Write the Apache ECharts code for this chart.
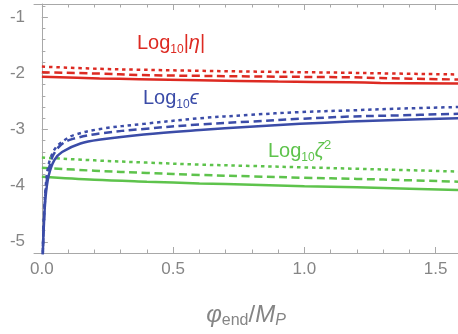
<!DOCTYPE html>
<html>
<head>
<meta charset="utf-8">
<script src="https://cdn.jsdelivr.net/npm/echarts@6/dist/echarts.min.js"></script>
<style>
  html, body { margin: 0; padding: 0; background: #ffffff; }
  #chart { width: 458px; height: 334px; }
</style>
</head>
<body>
<div id="chart"></div>
<script>
// Slow-roll quantities versus the field value at the end of inflation.
// Three parameter choices per quantity: solid, dashed and dotted.

// Log10|eta|
const etaX       = [0, 0.22, 0.37, 0.6, 0.9, 1.17, 1.29, 1.585];
const etaDotted  = [-1.88, -1.92, -1.935, -1.955, -1.975, -1.99, -2.0, -2.02];
const etaDashed  = [-1.98, -2.005, -2.03, -2.045, -2.06, -2.07, -2.085, -2.11];
const etaSolid   = [-2.06, -2.09, -2.105, -2.125, -2.145, -2.16, -2.17, -2.18];

// Log10 epsilon
const epsSolidX  = [0.003, 0.007, 0.014, 0.026, 0.048, 0.077, 0.147, 0.223, 0.388, 0.602, 0.792, 0.983, 1.173, 1.35, 1.585];
const epsSolid   = [-5.3, -4.77, -4.21, -3.82, -3.54, -3.4, -3.25, -3.18, -3.09, -3.01, -2.95, -2.9, -2.86, -2.83, -2.8];
const epsDashedX = [0.003, 0.007, 0.014, 0.022, 0.033, 0.045, 0.071, 0.109, 0.223, 0.388, 0.602, 0.792, 0.983, 1.173, 1.35, 1.585];
const epsDashed  = [-5.3, -4.7, -4.12, -3.8, -3.59, -3.44, -3.28, -3.18, -3.07, -2.99, -2.91, -2.86, -2.81, -2.77, -2.75, -2.72];
const epsDottedX = [0.003, 0.007, 0.014, 0.022, 0.033, 0.052, 0.083, 0.122, 0.223, 0.388, 0.602, 0.792, 0.983, 1.173, 1.35, 1.585];
const epsDotted  = [-5.3, -4.65, -4.05, -3.71, -3.51, -3.33, -3.2, -3.1, -2.99, -2.9, -2.8, -2.74, -2.69, -2.66, -2.63, -2.6];

// Log10 zeta^2
const zetaX      = [0, 0.2, 0.4, 0.6, 0.8, 1.0, 1.2, 1.4, 1.585];
const zetaDotted = [-3.5, -3.55, -3.59, -3.625, -3.65, -3.675, -3.7, -3.725, -3.75];
const zetaDashed = [-3.68, -3.735, -3.775, -3.81, -3.835, -3.86, -3.88, -3.905, -3.93];
const zetaSolid  = [-3.84, -3.895, -3.93, -3.96, -3.985, -4.01, -4.03, -4.055, -4.08];

// Axis ticks
const xMajor = [0, 0.5, 1, 1.5];
const xMinor = [0, 0.1, 0.2, 0.3, 0.4, 0.5, 0.6, 0.7, 0.8, 0.9, 1.0, 1.1, 1.2, 1.3, 1.4, 1.5];
const yMajor = [-5, -4, -3, -2, -1];
const yMinor = [-5.2, -5.0, -4.8, -4.6, -4.4, -4.2, -4.0, -3.8, -3.6, -3.4, -3.2, -3.0, -2.8, -2.6, -2.4, -2.2, -2.0, -1.8, -1.6, -1.4, -1.2, -1.0, -0.8];

const RED = '#dd2a22';
const BLUE = '#3b4ca8';
const GREEN = '#5ec34c';
const AXIS = '#a8a8a8';
const TEXT = '#858585';
const FONT = '"Liberation Sans", Arial, sans-serif';
const DASHED = [8, 4.5];
const DOTTED = [3.5, 3.8];

const X_MIN = -0.03, X_MAX = 1.585, Y_MIN = -5.2, Y_MAX = -0.765;

function pairs(xs, ys) { return xs.map((x, i) => [x, ys[i]]); }

function curve(name, xs, ys, color, dash, z) {
  return {
    name, type: 'line', data: pairs(xs, ys),
    showSymbol: false, symbol: 'none', smooth: 0.35,
    z,
    lineStyle: { color, width: 2.5, type: dash, cap: 'butt' }
  };
}

function tag(coord, text, color) {
  return {
    symbol: 'circle', symbolSize: 0, silent: true,
    label: {
      show: true, position: 'right', distance: 0,
      formatter: text,
      rich: {
        m:  { fontFamily: FONT, fontSize: 20, color, lineHeight: 24 },
        i:  { fontFamily: FONT, fontSize: 20, color, lineHeight: 24, fontStyle: 'italic' },
        s:  { fontFamily: FONT, fontSize: 12, color, lineHeight: 13, verticalAlign: 'bottom' },
        p:  { fontFamily: FONT, fontSize: 13, color, lineHeight: 7, verticalAlign: 'top' }
      }
    },
    data: [{ coord }]
  };
}

function xAxisPart(position, ticks, len, withLine, withLabel) {
  return {
    type: 'value', min: X_MIN, max: X_MAX, position,
    axisLine: { show: withLine, lineStyle: { color: AXIS, width: 1 } },
    axisTick: { show: true, inside: true, length: len, customValues: ticks, lineStyle: { color: AXIS, width: 1 } },
    axisLabel: withLabel ? {
      show: true, customValues: xMajor, color: TEXT, fontSize: 17, fontFamily: FONT, margin: 8,
      formatter: v => v.toFixed(1)
    } : { show: false },
    splitLine: { show: false }
  };
}

function yAxisPart(ticks, len, withLine, withLabel) {
  return {
    type: 'value', min: Y_MIN, max: Y_MAX, position: 'left',
    axisLine: { show: withLine, lineStyle: { color: AXIS, width: 1 } },
    axisTick: { show: true, inside: true, length: len, customValues: ticks, lineStyle: { color: AXIS, width: 1 } },
    axisLabel: withLabel ? {
      show: true, customValues: yMajor, color: TEXT, fontSize: 17, fontFamily: FONT, margin: 9,
      formatter: v => String(Math.round(v))
    } : { show: false },
    splitLine: { show: false }
  };
}

const chart = echarts.init(document.getElementById('chart'), null, { renderer: 'canvas' });

const bottomAxis = xAxisPart('bottom', xMajor, 6, true, true);
bottomAxis.name = '{i|φ}{s|end}{n|/}{i|M}{si|P}';
bottomAxis.nameLocation = 'middle';
bottomAxis.nameGap = 48;
bottomAxis.nameTextStyle = {
  rich: {
    n:  { fontFamily: FONT, fontSize: 24, color: TEXT, lineHeight: 28 },
    i:  { fontFamily: FONT, fontSize: 24, color: TEXT, lineHeight: 28, fontStyle: 'italic' },
    s:  { fontFamily: FONT, fontSize: 16, color: TEXT, lineHeight: 15, verticalAlign: 'bottom' },
    si: { fontFamily: FONT, fontSize: 16, color: TEXT, lineHeight: 15, verticalAlign: 'bottom', fontStyle: 'italic' }
  }
};

const option = {
  animation: false,
  backgroundColor: '#ffffff',
  grid: { left: 34, right: 0, top: 4, bottom: 65, containLabel: false },
  xAxis: [
    bottomAxis,
    xAxisPart('bottom', xMinor, 3.5, false, false),
    xAxisPart('top', xMajor, 6, true, false),
    xAxisPart('top', xMinor, 3.5, false, false)
  ],
  yAxis: [
    yAxisPart(yMajor, 6, true, true),
    yAxisPart(yMinor, 3.5, false, false)
  ],
  series: [
    curve('zeta dotted', zetaX, zetaDotted, GREEN, DOTTED, 2),
    curve('zeta dashed', zetaX, zetaDashed, GREEN, DASHED, 2),
    Object.assign(curve('zeta solid', zetaX, zetaSolid, GREEN, 'solid', 2),
      { markPoint: tag([0.861, -3.39], '{m|Log}{s|10}{i|ζ}{p|2}', GREEN) }),
    curve('eta dotted', etaX, etaDotted, RED, DOTTED, 3),
    curve('eta dashed', etaX, etaDashed, RED, DASHED, 3),
    Object.assign(curve('eta solid', etaX, etaSolid, RED, 'solid', 3),
      { markPoint: tag([0.362, -1.47], '{m|Log}{s|10}{m||}{i|η}{m||}', RED) }),
    curve('eps dotted', epsDottedX, epsDotted, BLUE, DOTTED, 4),
    curve('eps dashed', epsDashedX, epsDashed, BLUE, DASHED, 4),
    Object.assign(curve('eps solid', epsSolidX, epsSolid, BLUE, 'solid', 4),
      { markPoint: tag([0.385, -2.45], '{m|Log}{s|10}{i|ϵ}', BLUE) })
  ]
};

chart.setOption(option);
</script>
</body>
</html>
